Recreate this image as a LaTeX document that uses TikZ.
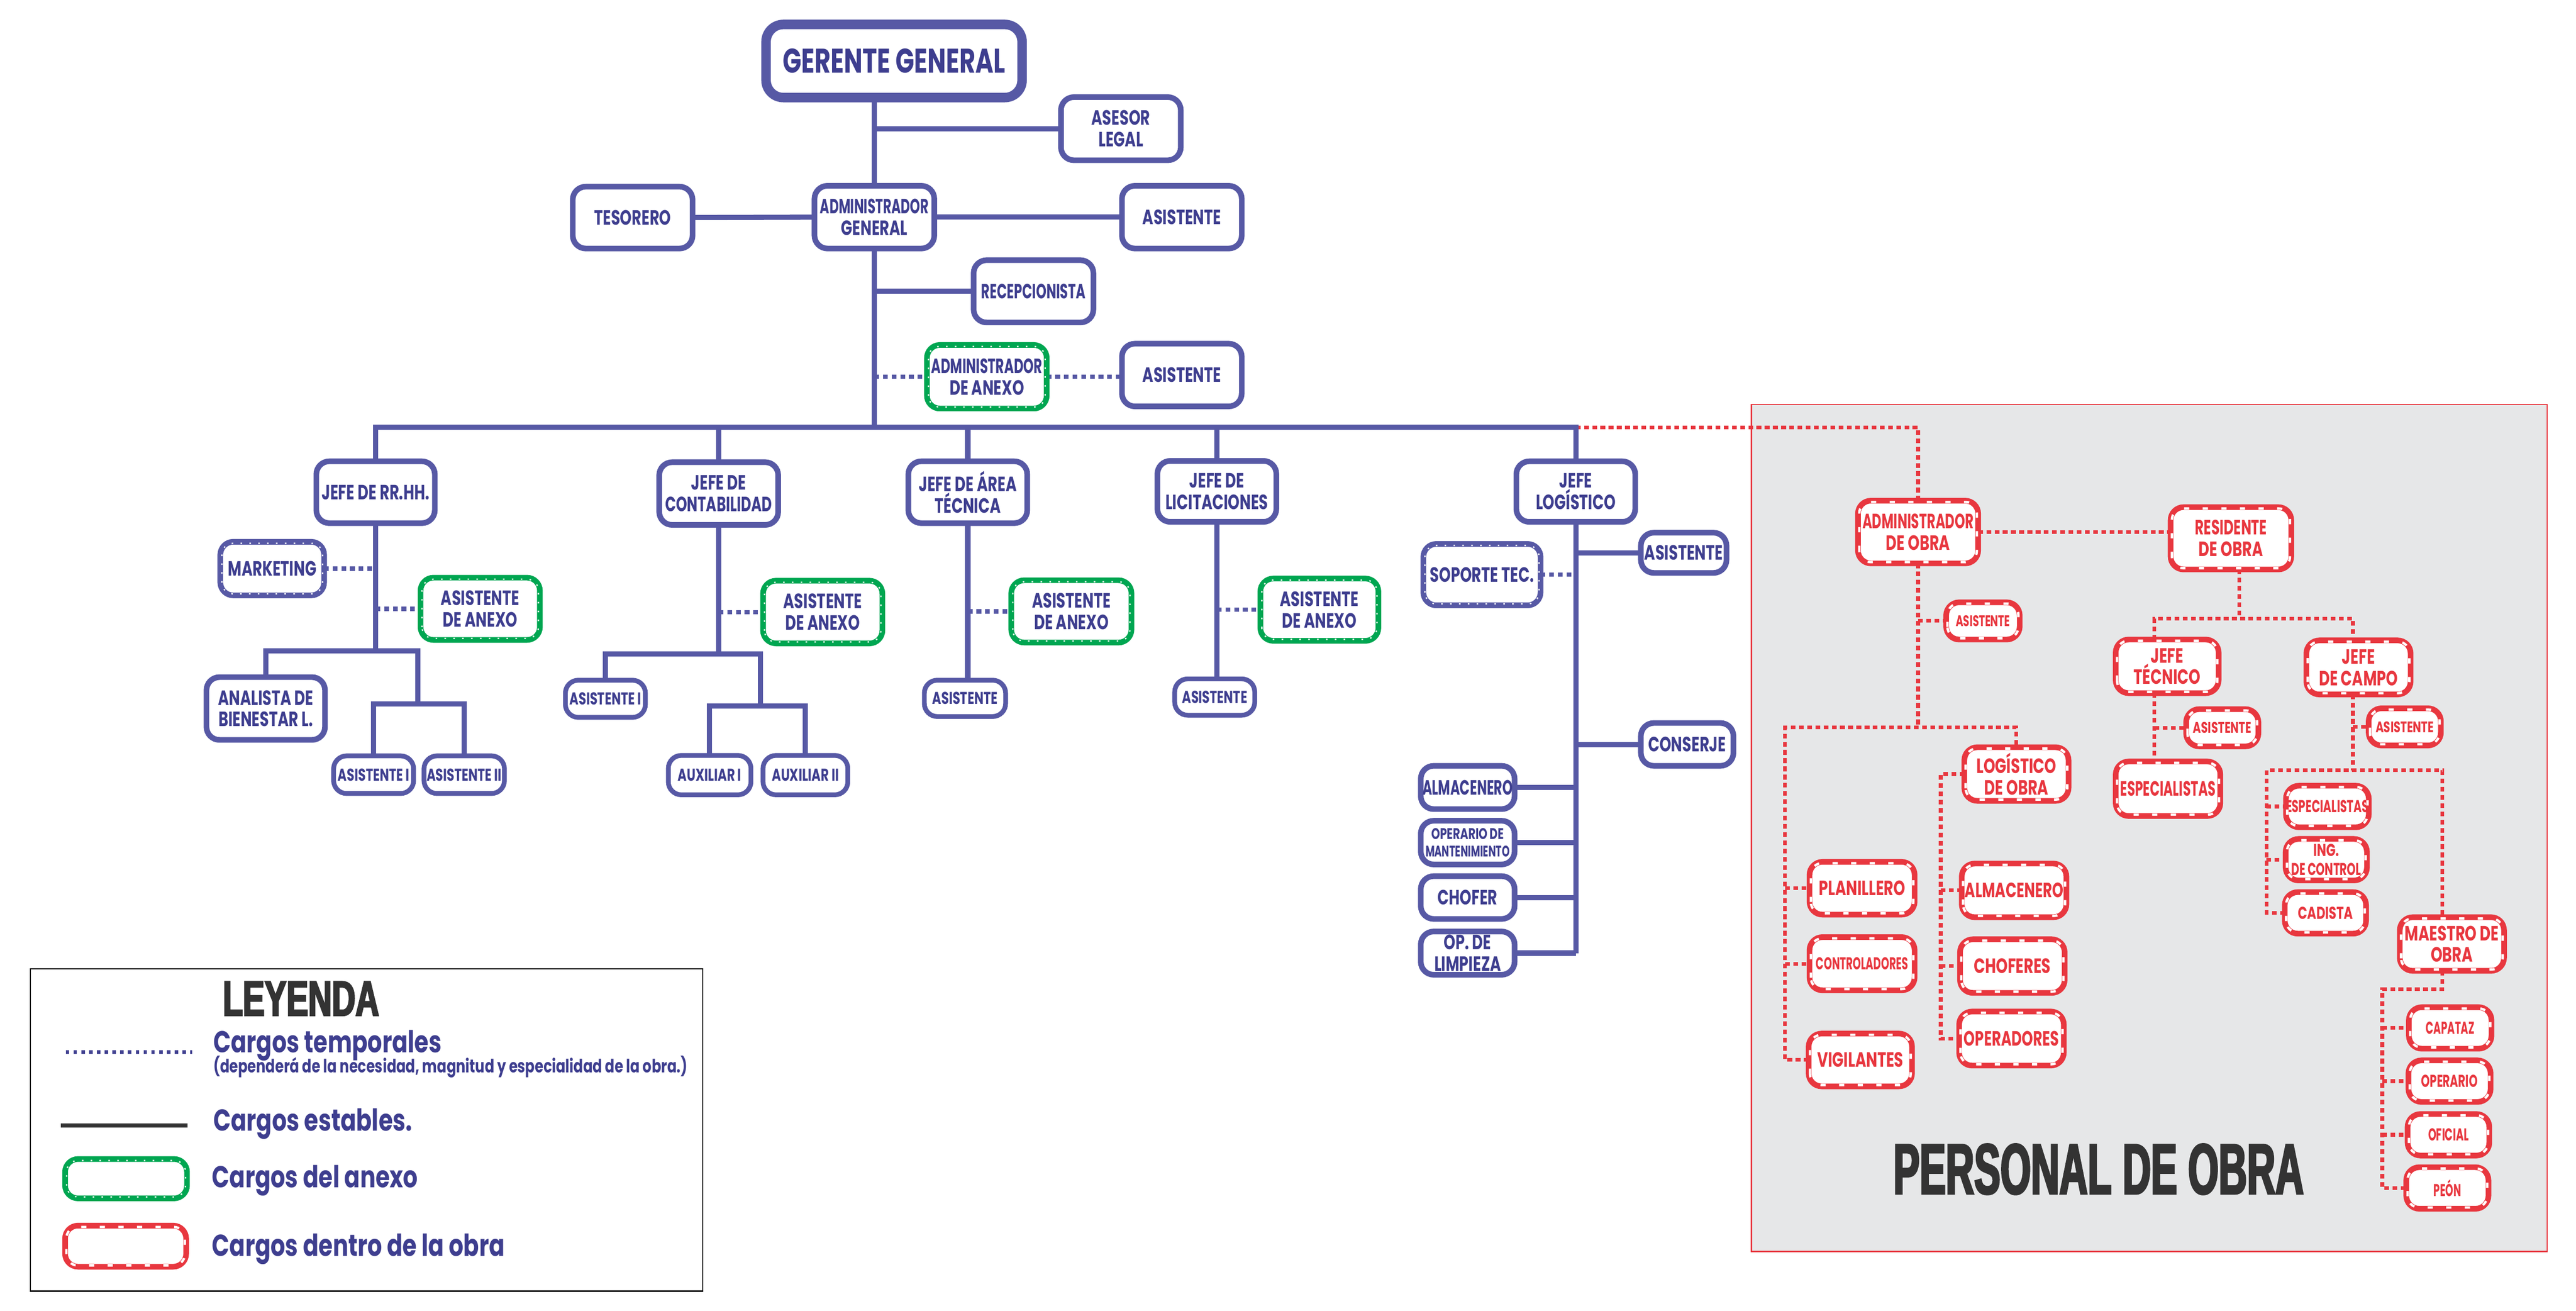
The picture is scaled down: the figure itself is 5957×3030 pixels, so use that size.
\documentclass[tikz,border=0pt]{standalone}
\usepackage{fontspec}
\usepackage{graphicx}
\usetikzlibrary{calc}
\newfontfamily\lblfont[FakeStretch=0.72]{Poppins}
\newfontfamily\legfont[FakeStretch=0.76]{Poppins}
\newfontfamily\heavyfont[FakeStretch=0.55,FakeBold=2.5]{Liberation Sans}
\definecolor{bb}{HTML}{5759A5}
\definecolor{bt}{HTML}{3E3E8F}
\definecolor{grn}{HTML}{00A651}
\definecolor{rd}{HTML}{E8373F}
\definecolor{panelgray}{HTML}{E6E7E8}
\definecolor{dk}{HTML}{333333}
\newcommand\szXL{\fontsize{22.5pt}{23.5pt}\selectfont}
\newcommand\szL{\fontsize{13.6pt}{14.2pt}\selectfont}
\newcommand\szM{\fontsize{11.3pt}{12.4pt}\selectfont}
\newcommand\szS{\fontsize{10.1pt}{11.8pt}\selectfont}
\newcommand\hs[2]{\scalebox{#1}[1]{#2}}
\newcommand\bx[7]{\node[#1, minimum width={(#5-#3-13)*0.1mm}, minimum height={(#6-#4-13)*0.1mm}] (#2) at ({(#3+#5)/2},{(#4+#6)/2}) {#7};}
\pgfdeclarelayer{panel}
\pgfdeclarelayer{bg}
\pgfsetlayers{panel,bg,main}
\tikzset{
  boxbase/.style={rectangle, rounded corners=3mm, fill=white, line width=1.3mm, inner sep=0pt, outer sep=0pt, align=center, font=\lblfont\bfseries\szL},
  bbox/.style={boxbase, draw=bb, text=bt},
  topbox/.style={bbox, line width=2.2mm, rounded corners=4mm, font=\lblfont\bfseries\szXL},
  bsm/.style={bbox, line width=1.1mm, font=\lblfont\bfseries\szM},
  dbox/.style={bbox},
  gbox/.style={boxbase, draw=grn, text=bt},
  rbox/.style={boxbase, draw=rd, text=rd},
  rmd/.style={rbox, font=\lblfont\bfseries\szM},
  rsm/.style={rbox, font=\lblfont\bfseries\szS},
  dotpat/.style={white, line width=0.3mm, dash pattern=on 0.35mm off 1.7mm, rounded corners=2.6mm},
  redpat/.style={white, line width=0.55mm, dash pattern=on 1.2mm off 3.1mm, rounded corners=2.6mm},
  sl/.style={draw=bb, line width=1.2mm},
  bd/.style={draw=bb, line width=1.0mm, dash pattern=on 1.1mm off 0.9mm},
  rdl/.style={draw=rd, line width=0.85mm, dash pattern=on 1.1mm off 0.8mm},
  legtxt/.style={anchor=base west, inner sep=0pt, text=bt, font=\legfont\bfseries\fontsize{19.9pt}{21pt}\selectfont},
}
\begin{document}
\begin{tikzpicture}[x=0.1mm,y=-0.1mm]
\useasboundingbox (0,0) rectangle (5957,3030);
\begin{pgfonlayer}{panel}
\fill[white] (0,0) rectangle (5957,3030);
\draw[draw=rd, line width=0.3mm, fill=panelgray] (4050,935) rectangle (5890,2893);
\end{pgfonlayer}

% ---------- blue boxes ----------
\bx{topbox}{nGG}{1765}{50}{2370}{232}{GERENTE GENERAL}
\bx{bbox}{nASE}{2447}{218}{2737}{377}{ASESOR\\LEGAL}
\bx{bbox}{nTES}{1318}{425}{1608}{581}{TESORERO}
\bx{bbox}{nADM}{1877}{423}{2167}{581}{\hs{0.86}{ADMINISTRADOR}\\GENERAL}
\bx{bbox}{nAS1}{2588}{423}{2878}{581}{ASISTENTE}
\bx{bbox}{nREC}{2245}{595}{2535}{752}{\hs{0.88}{RECEPCIONISTA}}
\bx{gbox}{nADX}{2137}{791}{2427}{951}{\hs{0.88}{ADMINISTRADOR}\\DE ANEXO}
\bx{bbox}{nAS2}{2588}{788}{2878}{946}{ASISTENTE}

\bx{bbox}{nRRH}{725}{1060}{1012}{1216}{JEFE DE RR.HH.}
\bx{bbox}{nCON}{1518}{1062}{1806}{1220}{JEFE DE\\\hs{0.95}{CONTABILIDAD}}
\bx{bbox}{nTEC}{2094}{1060}{2382}{1216}{JEFE DE ÁREA\\TÉCNICA}
\bx{bbox}{nLIC}{2670}{1059}{2958}{1213}{JEFE DE\\LICITACIONES}
\bx{bbox}{nLOG}{3500}{1060}{3788}{1213}{JEFE\\LOGÍSTICO}

\bx{dbox}{nMKT}{503}{1246}{756}{1383}{MARKETING}
\bx{gbox}{nAX1}{966}{1329}{1255}{1486}{ASISTENTE\\DE ANEXO}
\bx{bbox}{nANA}{471}{1559}{758}{1717}{ANALISTA DE\\BIENESTAR L.}
\bx{bsm}{nA1R}{765}{1741}{963}{1841}{ASISTENTE I}
\bx{bsm}{nA2R}{974}{1741}{1173}{1841}{ASISTENTE II}

\bx{gbox}{nAX2}{1758}{1336}{2047}{1494}{ASISTENTE\\DE ANEXO}
\bx{bsm}{nA1C}{1301}{1566}{1499}{1665}{ASISTENTE I}
\bx{bsm}{nAU1}{1539}{1740}{1743}{1844}{AUXILIAR I}
\bx{bsm}{nAU2}{1758}{1740}{1967}{1844}{AUXILIAR II}

\bx{gbox}{nAX3}{2332}{1335}{2623}{1492}{ASISTENTE\\DE ANEXO}
\bx{bsm}{nATE}{2131}{1566}{2332}{1663}{ASISTENTE}
\bx{gbox}{nAX4}{2908}{1331}{3194}{1488}{ASISTENTE\\DE ANEXO}
\bx{bsm}{nALI}{2710}{1563}{2908}{1660}{ASISTENTE}

\bx{bbox}{nAGL}{3788}{1225}{3999}{1331}{ASISTENTE}
\bx{dbox}{nSOP}{3285}{1251}{3569}{1406}{SOPORTE TEC.}
\bx{bbox}{nCSJ}{3788}{1665}{4015}{1777}{CONSERJE}
\bx{bbox}{nALM}{3279}{1764}{3509}{1877}{\hs{0.88}{ALMACENERO}}
\bx{bbox, font=\lblfont\bfseries\szS}{nOPM}{3279}{1891}{3509}{2005}{OPERARIO DE\\\hs{0.9}{MANTENIMIENTO}}
\bx{bbox}{nCHO}{3279}{2019}{3509}{2131}{CHOFER}
\bx{bbox}{nOPL}{3279}{2147}{3509}{2260}{OP. DE\\LIMPIEZA}

% ---------- red boxes ----------
\bx{rbox}{nAOB}{4290}{1151}{4581}{1309}{\hs{0.88}{ADMINISTRADOR}\\DE OBRA}
\bx{rbox}{nRES}{5013}{1166}{5305}{1323}{\hs{0.92}{RESIDENTE}\\DE OBRA}
\bx{rsm}{nASO}{4494}{1386}{4677}{1485}{\hs{0.93}{ASISTENTE}}
\bx{rbox}{nJTE}{4886}{1472}{5137}{1609}{JEFE\\TÉCNICO}
\bx{rbox}{nJCA}{5327}{1474}{5581}{1612}{JEFE\\DE CAMPO}
\bx{rsm}{nAJT}{5049}{1633}{5229}{1732}{ASISTENTE}
\bx{rsm}{nAJC}{5471}{1631}{5651}{1730}{ASISTENTE}
\bx{rbox}{nES1}{4886}{1754}{5141}{1893}{\hs{0.86}{ESPECIALISTAS}}
\bx{rbox}{nLGO}{4536}{1721}{4790}{1858}{LOGÍSTICO\\DE OBRA}
\bx{rbox}{nALO}{4530}{1990}{4785}{2127}{\hs{0.96}{ALMACENERO}}
\bx{rbox}{nCHF}{4526}{2165}{4781}{2302}{CHOFERES}
\bx{rbox}{nOPE}{4524}{2332}{4779}{2470}{\hs{0.96}{OPERADORES}}
\bx{rbox}{nPLA}{4178}{1986}{4434}{2121}{PLANILLERO}
\bx{rmd}{nCTR}{4178}{2160}{4434}{2296}{\hs{0.84}{CONTROLADORES}}
\bx{rbox}{nVIG}{4176}{2383}{4428}{2518}{VIGILANTES}
\bx{rmd}{nES2}{5281}{1810}{5483}{1919}{\hs{0.9}{ESPECIALISTAS}}
\bx{rmd}{nING}{5279}{1933}{5480}{2042}{ING.\\\hs{0.9}{DE CONTROL}}
\bx{rmd}{nCAD}{5277}{2056}{5478}{2165}{CADISTA}
\bx{rbox}{nMAE}{5543}{2114}{5797}{2251}{MAESTRO DE\\OBRA}
\bx{rmd}{nCAP}{5564}{2322}{5768}{2431}{\hs{0.82}{CAPATAZ}}
\bx{rmd}{nOPA}{5563}{2445}{5766}{2554}{\hs{0.9}{OPERARIO}}
\bx{rmd}{nOFI}{5561}{2569}{5763}{2678}{\hs{0.84}{OFICIAL}}
\bx{rmd}{nPEO}{5558}{2692}{5761}{2801}{\hs{0.82}{PEÓN}}

\node[anchor=base, inner sep=0pt, text=dk, font=\heavyfont\bfseries\fontsize{47pt}{50pt}\selectfont] (tPO) at (4853,2760) {PERSONAL DE OBRA};

% ---------- legend ----------
\node[draw=black, line width=0.3mm, minimum width=155.5mm, minimum height=74.5mm, inner sep=0pt, outer sep=0pt] (nLEG) at (847.5,2612.5) {};
\node[anchor=base, inner sep=0pt, text=dk, font=\heavyfont\bfseries\fontsize{32.6pt}{34pt}\selectfont] (tLEY) at (696,2348) {\scalebox{1.2}[1]{LEYENDA}};
\coordinate (lgA1) at (152,2432);
\coordinate (lgA2) at (444,2432);
\coordinate (lgB1) at (141,2602);
\coordinate (lgB2) at (434,2602);
\draw[draw=bt, line width=0.9mm, dash pattern=on 0.8mm off 1.0mm] (lgA1) -- (lgA2);
\draw[draw=dk, line width=0.9mm] (lgB1) -- (lgB2);
\bx{gbox}{nLG1}{144}{2673}{439}{2777}{}
\bx{rbox}{nLG2}{144}{2827}{437}{2935}{}
\node[legtxt] (tL1) at (493,2433) {Cargos temporales};
\node[legtxt, font=\legfont\bfseries\fontsize{12.1pt}{13pt}\selectfont] (tL1b) at (493,2480) {(dependerá de la necesidad, magnitud y especialidad de la obra.)};
\node[legtxt] (tL2) at (493,2614) {Cargos estables.};
\node[legtxt] (tL3) at (490,2745) {Cargos del anexo};
\node[legtxt] (tL4) at (490,2904) {Cargos dentro de la obra};

% ---------- inner border patterns ----------
\foreach \n in {nADX,nAX1,nAX2,nAX3,nAX4,nLG1,nMKT,nSOP}
  \draw[dotpat] ([shift={(0.35mm,0.35mm)}]\n.south west) rectangle ([shift={(-0.35mm,-0.35mm)}]\n.north east);
\foreach \n in {nAOB,nRES,nASO,nJTE,nJCA,nAJT,nAJC,nES1,nLGO,nALO,nCHF,nOPE,nPLA,nCTR,nVIG,nES2,nING,nCAD,nMAE,nCAP,nOPA,nOFI,nPEO,nLG2}
  \draw[redpat] ([shift={(0.3mm,0.3mm)}]\n.south west) rectangle ([shift={(-0.3mm,-0.3mm)}]\n.north east);

% ---------- connectors ----------
\coordinate (bus) at (0,988);
\coordinate (yR1) at (0,1505);
\coordinate (xR2) at (966,0);
\coordinate (yR2) at (0,1627);
\coordinate (yC1) at (0,1512);
\coordinate (xC2) at (1758,0);
\coordinate (yC2) at (0,1632);
\coordinate (yA1) at (0,1682);
\coordinate (xA2) at (4128,0);
\coordinate (xL) at (4488,0);
\coordinate (xRs) at (5178,0);
\coordinate (yR) at (0,1430);
\coordinate (xJT) at (4982,0);
\coordinate (xJC) at (5441,0);
\coordinate (yC) at (0,1781);
\coordinate (xC1) at (5241,0);
\coordinate (xM) at (5648,0);
\coordinate (yM) at (0,2287);
\coordinate (xM2) at (5509,0);

\begin{pgfonlayer}{bg}
% red (obra)
\draw[rdl] (nLOG.north |- bus) -- (nAOB.north |- bus) -- (nAOB.north);
\draw[rdl] (nAOB.east) -- (nAOB.east -| nRES.west);
\draw[rdl] (nAOB.south) -- (nAOB.south |- yA1);
\draw[rdl] (nAOB.south |- nASO.west) -- (nASO.west);
\draw[rdl] (nVIG.west) -- (xA2 |- nVIG.west) -- (xA2 |- yA1) -- (nLGO.north |- yA1) -- (nLGO.north);
\draw[rdl] (xA2 |- nPLA.west) -- (nPLA.west);
\draw[rdl] (xA2 |- nCTR.west) -- (nCTR.west);
\draw[rdl] (nLGO.west) -- (xL |- nLGO.west) -- (xL |- nOPE.west) -- (nOPE.west);
\draw[rdl] (xL |- nALO.west) -- (nALO.west);
\draw[rdl] (xL |- nCHF.west) -- (nCHF.west);
\draw[rdl] (xRs |- nRES.south) -- (xRs |- yR);
\draw[rdl] (xJT |- nJTE.north) -- (xJT |- yR) -- (xJC |- yR) -- (xJC |- nJCA.north);
\draw[rdl] (xJT |- nJTE.south) -- (xJT |- nES1.north);
\draw[rdl] (xJT |- nAJT.west) -- (nAJT.west);
\draw[rdl] (xJC |- nJCA.south) -- (xJC |- yC);
\draw[rdl] (xJC |- nAJC.west) -- (nAJC.west);
\draw[rdl] (nCAD.west) -- (xC1 |- nCAD.west) -- (xC1 |- yC) -- (xM |- yC) -- (xM |- nMAE.north);
\draw[rdl] (xC1 |- nES2.west) -- (nES2.west);
\draw[rdl] (xC1 |- nING.west) -- (nING.west);
\draw[rdl] (xM |- nMAE.south) -- (xM |- yM) -- (xM2 |- yM) -- (xM2 |- nPEO.west) -- (nPEO.west);
\draw[rdl] (xM2 |- nCAP.west) -- (nCAP.west);
\draw[rdl] (xM2 |- nOPA.west) -- (nOPA.west);
\draw[rdl] (xM2 |- nOFI.west) -- (nOFI.west);

% blue top
\draw[sl] (nGG.south -| nADM.north) -- (nADM.north);
\draw[sl] (nASE.west) -- (nASE.west -| nADM.north);
\draw[sl] (nTES.east) -- (nADM.west);
\draw[sl] (nADM.east) -- (nADM.east -| nAS1.west);
\draw[sl] (nADM.south) -- (nADM.south |- bus);
\draw[sl] (nREC.west) -- (nREC.west -| nADM.south);
\draw[bd] (nADM.south |- nADX.west) -- (nADX.west);
\draw[bd] (nADX.east) -- (nADX.east -| nAS2.west);
% bus
\draw[sl] (nRRH.north) -- (nRRH.north |- bus) -- (nLOG.north |- bus) -- (nLOG.north);
\draw[sl] (nCON.north) -- (nCON.north |- bus);
\draw[sl] (nTEC.north) -- (nTEC.north |- bus);
\draw[sl] (nLIC.north) -- (nLIC.north |- bus);
% rrhh
\draw[sl] (nRRH.south) -- (nRRH.south |- yR1);
\draw[sl] (nANA.north) -- (nANA.north |- yR1) -- (xR2 |- yR1) -- (xR2 |- yR2);
\draw[sl] (nA1R.north) -- (nA1R.north |- yR2) -- (nA2R.north |- yR2) -- (nA2R.north);
\draw[bd] (nMKT.east) -- (nMKT.east -| nRRH.south);
\draw[bd] (nRRH.south |- nAX1.west) -- (nAX1.west);
% contabilidad
\draw[sl] (nCON.south) -- (nCON.south |- yC1);
\draw[sl] (nA1C.north) -- (nA1C.north |- yC1) -- (xC2 |- yC1) -- (xC2 |- yC2);
\draw[sl] (nAU1.north) -- (nAU1.north |- yC2) -- (nAU2.north |- yC2) -- (nAU2.north);
\draw[bd] (nCON.south |- nAX2.west) -- (nAX2.west);
% area tecnica
\draw[sl] (nTEC.south) -- (nTEC.south |- nATE.north);
\draw[bd] (nTEC.south |- nAX3.west) -- (nAX3.west);
% licitaciones
\draw[sl] (nLIC.south) -- (nLIC.south |- nALI.north);
\draw[bd] (nLIC.south |- nAX4.west) -- (nAX4.west);
% logistico
\draw[sl] (nLOG.south) -- (nLOG.south |- nOPL.east);
\draw[sl] (nLOG.south |- nAGL.west) -- (nAGL.west);
\draw[sl] (nLOG.south |- nCSJ.west) -- (nCSJ.west);
\draw[sl] (nALM.east) -- (nALM.east -| nLOG.south);
\draw[sl] (nOPM.east) -- (nOPM.east -| nLOG.south);
\draw[sl] (nCHO.east) -- (nCHO.east -| nLOG.south);
\draw[sl] (nOPL.east) -- (nOPL.east -| nLOG.south);
\draw[bd] (nSOP.east) -- (nSOP.east -| nLOG.south);
\end{pgfonlayer}
\end{tikzpicture}
\end{document}
